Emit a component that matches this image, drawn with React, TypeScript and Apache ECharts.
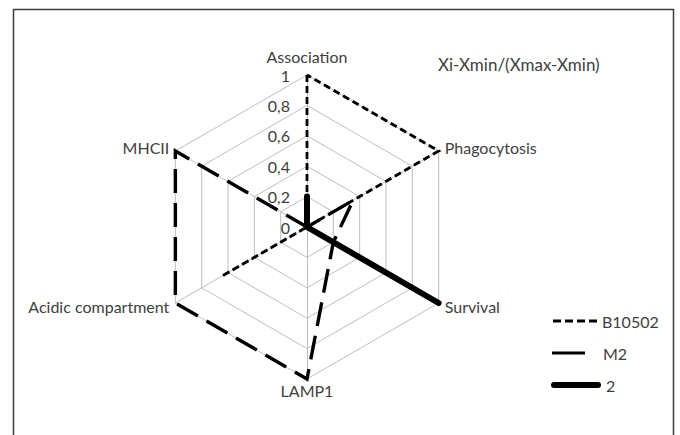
import React, { useEffect, useRef } from "react";
import * as echarts from "echarts";

// Indicators in ECharts' counter-clockwise order starting at top
const indicatorNames = ["Association", "MHCII", "Acidic compartment", "LAMP1", "Survival", "Phagocytosis"];
const seriesNames = ["B10502", "M2", "2"];
const valuesB10502 = [1, 0, 0.65, 0, 0, 1];
const valuesM2 = [0, 1, 1, 1, 0.2, 0.35];
const values2 = [0.2, 0, 0, 0, 1, 0];
const axisMin = 0;
const axisMax = 1;
const axisInterval = 0.2;
const titleText = "Xi-Xmin/(Xmax-Xmin)";

const FONT = "Lato";
const TXT = "#404040";

export default function App() {
  const ref = useRef<HTMLDivElement>(null);
  useEffect(() => {
    if (!ref.current) return;
    const chart = echarts.init(ref.current, null, { renderer: "svg" });
    const lineStyles: any[] = [
      { color: "#000", width: 2.8, type: [7, 4], cap: "butt", join: "miter" },
      { color: "#000", width: 3.4, type: [24, 10], cap: "butt", join: "miter" },
      { color: "#000", width: 6, type: "solid", cap: "round", join: "round" },
    ];
    const allValues = [valuesB10502, valuesM2, values2];
    const legendIcons = [
      "path://M0,0h8v3h-8z M12,0h8v3h-8z M24,0h8v3h-8z M36,0h8v3h-8z",
      "path://M0,0h33v3h-33z M46,1.5h0.01",
      "path://M3,0h44a3,3 0 0 1 0,6h-44a3,3 0 0 1 0,-6z",
    ];
    const legendSizes = [
      [44, 3, 553, 313],
      [46, 3, 552, 345],
      [50, 6, 551, 377],
    ];
    chart.setOption({
      animation: false,
      backgroundColor: "#fff",
      textStyle: { fontFamily: FONT },
      title: {
        text: titleText,
        left: 433,
        top: 51,
        textStyle: { fontFamily: FONT, fontSize: 17, fontWeight: "normal", color: TXT },
      },
      legend: seriesNames.map((n, i) => ({
        data: [{ name: n, icon: legendIcons[i] }],
        orient: "vertical",
        left: legendSizes[i][2],
        top: legendSizes[i][3],
        padding: 0,
        itemWidth: legendSizes[i][0],
        itemHeight: legendSizes[i][1],
        symbolKeepAspect: false,
        selectedMode: false,
        textStyle: { fontFamily: FONT, fontSize: 16, color: TXT },
      })),
      radar: {
        center: [307, 227],
        radius: 152,
        startAngle: 90,
        shape: "polygon",
        splitNumber: 5,
        nameGap: 7,
        axisName: { color: TXT, fontFamily: FONT, fontSize: 16, padding: [-4, 0, 4, 0] },
        indicator: indicatorNames.map((n, i) => ({
          name: n,
          min: axisMin,
          max: axisMax,
          interval: axisInterval,
          ...(i === 0 ? { axisLabel: { show: true } } : {}),
        })),
        axisLine: { lineStyle: { color: "#bfbfbf", width: 1 } },
        splitLine: { lineStyle: { color: "#bfbfbf", width: 1 } },
        splitArea: { show: false },
        axisTick: { show: false },
        axisLabel: {
          show: false,
          margin: 17,
          color: TXT,
          fontFamily: FONT,
          fontSize: 16,
          showMinLabel: true,
          showMaxLabel: true,
          formatter: (v: number) => String(Math.round(v * 10) / 10).replace(".", ","),
        },
      },
      series: [
        {
          type: "radar",
          symbol: "none",
          data: seriesNames.map((n, i) => ({
            name: n,
            value: allValues[i],
            lineStyle: lineStyles[i],
            itemStyle: { color: "#000" },
          })),
        },
      ],
      graphic: [
        {
          type: "rect",
          shape: { x: 13.5, y: 9.5, width: 660, height: 450 },
          style: { fill: "none", stroke: "#3c3c3c", lineWidth: 1.5 },
          silent: true,
        },
      ],
    });
    return () => chart.dispose();
  }, []);
  return (
    <div
      ref={ref}
      style={{ position: "absolute", left: 0, top: 0, width: 680, height: 435 }}
    />
  );
}
